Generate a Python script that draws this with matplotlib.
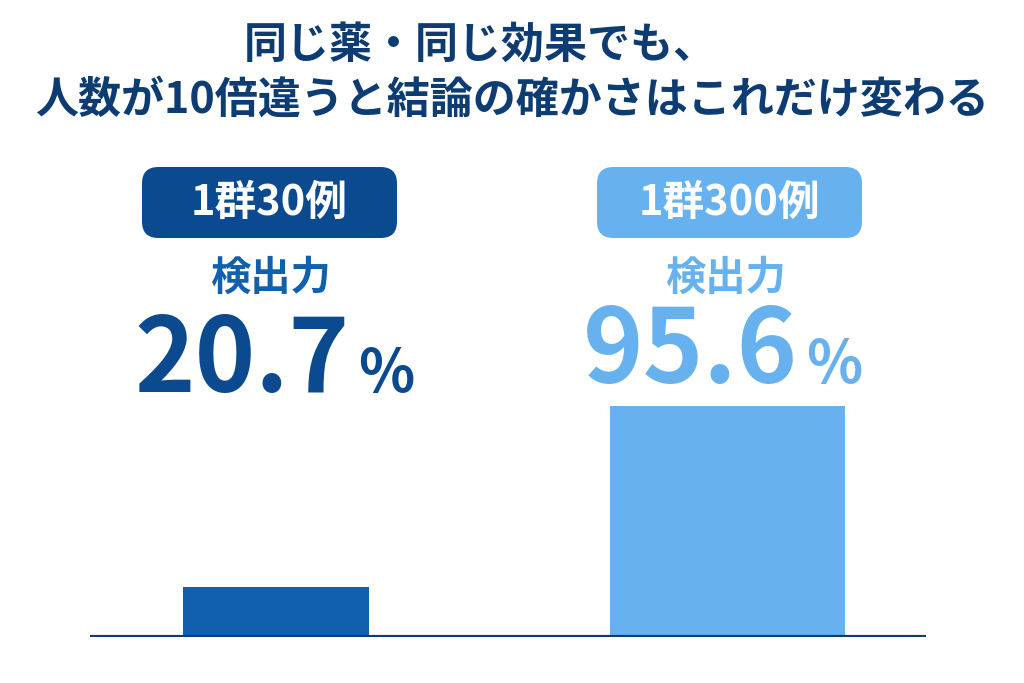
import matplotlib
matplotlib.use("Agg")
import matplotlib.pyplot as plt
from matplotlib.patches import FancyBboxPatch

plt.rcParams['font.family'] = ['Noto Sans CJK JP', 'DejaVu Sans']

# data
groups = ["1群30例", "1群300例"]
power = [20.7, 95.6]
power_label = "検出力"
title_lines = ["同じ薬・同じ効果でも、", "人数が10倍違うと結論の確かさはこれだけ変わる"]

W, H = 1024, 683
NAVY = "#0d3c73"
DARK = "#0c4a8f"
MID = "#1160ae"
LIGHT = "#68b1ef"


def fx(x):
    return x / W


def fy(y):
    return 1 - y / H


def main():
    fig = plt.figure(figsize=(W / 100, H / 100), dpi=100)
    fig.patch.set_facecolor("white")

    # title
    fig.text(fx(480), fy(45), title_lines[0], ha="center", va="center",
             fontsize=31, fontweight="bold", color=NAVY)
    fig.text(fx(512), fy(100), title_lines[1], ha="center", va="center",
             fontsize=31, fontweight="bold", color=NAVY)

    # bars
    ax = fig.add_axes([fx(90), fy(637), fx(926) - fx(90), (637 - 137) / H])
    ax.bar([0, 1], power, width=[0.412, 0.521], color=[MID, LIGHT], zorder=2)
    ax.axhline(0, color=NAVY, linewidth=3, zorder=3)
    ax.set_xlim(-0.412, 1.441)
    ax.set_ylim(0, 207)
    ax.axis("off")

    # group badges and power labels
    badge = [(142, 397, DARK), (597, 862, LIGHT)]
    label_col = [MID, LIGHT]
    num_col = [DARK, LIGHT]
    label_x = [270, 725]
    num_right = [350, 798]
    num_base = [392, 383]
    for i, g in enumerate(groups):
        x0, x1, c = badge[i]
        box = FancyBboxPatch((fx(x0), fy(238)), fx(x1 - x0), (238 - 167) / H,
                             boxstyle="round,pad=0,rounding_size=0.016",
                             transform=fig.transFigure, facecolor=c,
                             edgecolor="none", mutation_aspect=W / H)
        fig.patches.append(box)
        fig.text(fx((x0 + x1) / 2), fy(203), g, ha="center", va="center",
                 fontsize=30, fontweight="bold", color="white")
        fig.text(fx(label_x[i]), fy(278), power_label, ha="center",
                 va="center", fontsize=29, fontweight="bold",
                 color=label_col[i])
        fig.text(fx(num_right[i]), fy(num_base[i]), f"{power[i]:.1f}",
                 ha="right", va="baseline", fontsize=74, fontweight="bold",
                 color=num_col[i])
        fig.text(fx(num_right[i] + 8), fy(num_base[i]), "%", ha="left",
                 va="baseline", fontsize=42, fontweight="bold",
                 color=num_col[i])

    fig.savefig("out.png", dpi=100, facecolor="white")


if __name__ == "__main__":
    main()
